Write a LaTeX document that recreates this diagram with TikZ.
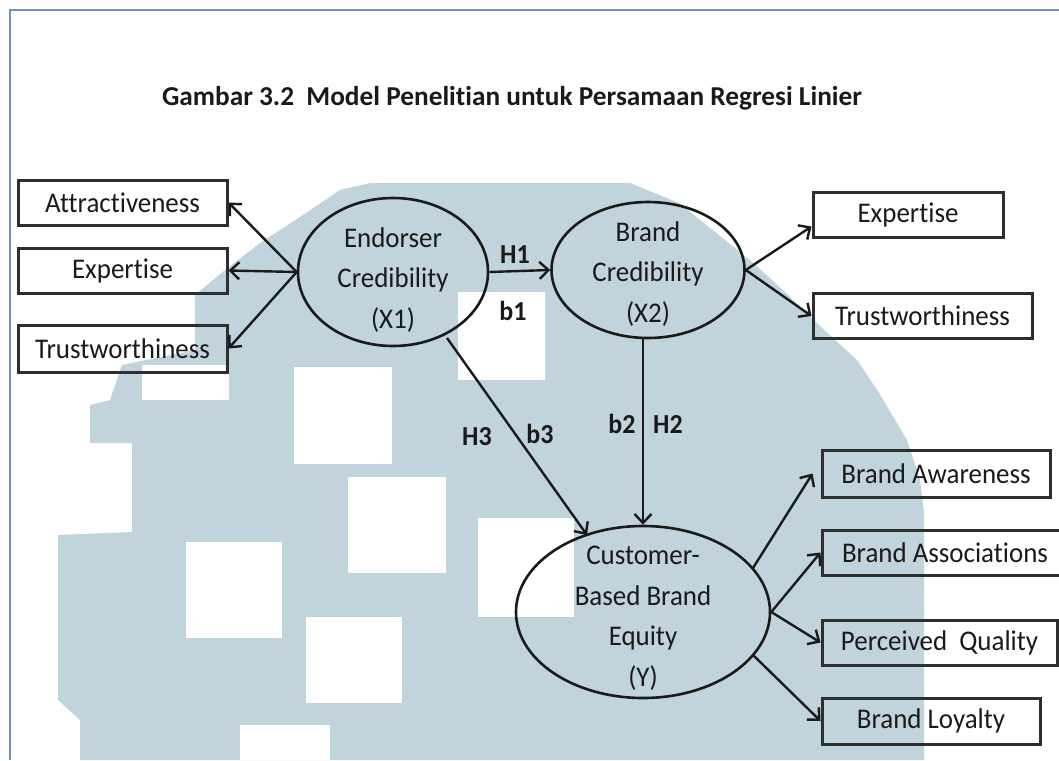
\documentclass[tikz,border=0pt]{standalone}
\usepackage{fontspec}
\setmainfont{Carlito}[FakeStretch=0.945, Ligatures=NoCommon]
\newfontfamily\titlefont{Carlito}[Ligatures=NoCommon]
\usetikzlibrary{shapes.geometric,arrows.meta,calc}
\definecolor{wm}{HTML}{C1D3DB}
\definecolor{framecol}{HTML}{7391B8}
\definecolor{ink}{HTML}{1A1A1A}
\definecolor{boxline}{HTML}{2E2E2E}
\begin{document}
\begin{tikzpicture}[x=1pt,y=-1pt,
  ind/.style={draw=boxline, line width=3pt, minimum height=45pt, inner sep=0pt, text=ink,
    font=\fontsize{28.5}{30}\selectfont},
  lat/.style={ellipse, draw=ink, line width=2.6pt, inner sep=0pt},
  lattext/.style={align=center, text=ink, inner sep=0pt, font=\fontsize{28.5}{40.5}\selectfont},
  conn/.style={draw=ink, line width=2.4pt, -{Straight Barb[length=9pt,width=17pt]}},
  lbl/.style={text=ink, inner sep=0pt, font=\bfseries\fontsize{27.5}{30}\selectfont},
]
\useasboundingbox (0,0) rectangle (1059,760);
\fill[white] (0,0) rectangle (1059,760);
% watermark
\fill[wm] (80,760) -- (80,720) -- (58,700) -- (58,535) -- (132,532) -- (132,443) -- (90,443)
  -- (90,405) -- (110,400) -- (122,365) -- (195,350) -- (195,295) -- (225,270) -- (260,243)
  -- (300,217) -- (340,190) -- (370,183) -- (630,183) -- (679,203) -- (750,260) -- (786,293)
  -- (821,327) -- (857,360) -- (879,393) -- (907,440) -- (920,480) -- (924,513) -- (924,760) -- cycle;
\fill[white] (294,367) rectangle (392,464);
\fill[white] (348,477) rectangle (446,573);
\fill[white] (186,542) rectangle (282,638);
\fill[white] (306,617) rectangle (402,703);
\fill[white] (240,725) rectangle (330,760);
\fill[white] (478,518) rectangle (574,617);
\fill[white] (458,292) rectangle (545,380);
\fill[white] (142,365) rectangle (229,400);
% frame
\draw[framecol, line width=2.5pt] (10,760) -- (10,10) -- (1059,10);
% title
\node[text=ink, inner sep=0pt, font=\titlefont\bfseries\fontsize{27.3}{30}\selectfont] (title) at (512,98)
  {Gambar 3.2~~Model Penelitian untuk Persamaan Regresi Linier};
% indicator boxes
\node[ind, minimum width=209pt] (attr) at (122.5,202.5) {Attractiveness};
\node[ind, minimum width=209pt] (exp1) at (122.5,270.5) {Expertise};
\node[ind, minimum width=209pt, minimum height=47pt] (trust1) at (122.5,348.5) {Trustworthiness};
\node[ind, minimum width=190pt] (exp2) at (908,214.5) {Expertise};
\node[ind, minimum width=219pt] (trust2) at (922.5,316) {Trustworthiness};
\node[ind, minimum width=228pt, minimum height=47pt] (aware) at (936,473.5) {Brand Awareness};
\node[ind, minimum width=246pt] (assoc) at (945,552.5) {Brand Associations};
\node[ind, minimum width=235pt] (qual) at (939.5,642.5) {Perceived~~Quality};
\node[ind, minimum width=218pt, minimum height=46pt] (loyal) at (931,721) {Brand Loyalty};
% latent ellipses
\node[lat, minimum width=190pt, minimum height=148pt] (endo) at (393,272) {};
\node[lattext] (endoT) at (393,280) {Endorser\\Credibility\\(X1)};
\node[lat, minimum width=193pt, minimum height=136pt] (brand) at (648,270) {};
\node[lattext] (brandT) at (648,274) {Brand\\Credibility\\(X2)};
\node[lat, minimum width=254pt, minimum height=172pt] (cbbe) at (643,612) {};
\node[lattext] (cbbeT) at (643,618) {Customer-\\Based Brand\\Equity\\(Y)};
% connectors
\draw[conn] (endo.west) -- (attr.east);
\draw[conn] (endo.west) -- (exp1.east);
\draw[conn] (endo.west) -- (trust1.east);
\draw[conn] (endo.east) -- (brand.west);
\draw[conn] (brand.east) -- ($(exp2.west)+(0,12)$);
\draw[conn] (brand.east) -- (trust2.west);
\draw[conn] (brand.south -| cbbe.north) -- (cbbe.north);
\draw[conn] ($(endo.center)+(54,66)$) -- ($(cbbe.center)+(-56,-77)$);
\draw[conn] ($(cbbe.center)+(110,-44)$) -- ($(aware.west)+(-8,0)$);
\draw[conn] (cbbe.east) -- (assoc.west);
\draw[conn] (cbbe.east) -- (qual.west);
\draw[conn] ($(cbbe.center)+(110,43)$) -- (loyal.west);
% path labels
\node[lbl] (h1) at (515,255) {H1};
\node[lbl] (b1) at (513,311) {b1};
\node[lbl] (b2) at (622,424) {b2};
\node[lbl] (h2) at (668,424) {H2};
\node[lbl] (h3) at (477,437) {H3};
\node[lbl] (b3) at (540,434) {b3};
\end{tikzpicture}
\end{document}
